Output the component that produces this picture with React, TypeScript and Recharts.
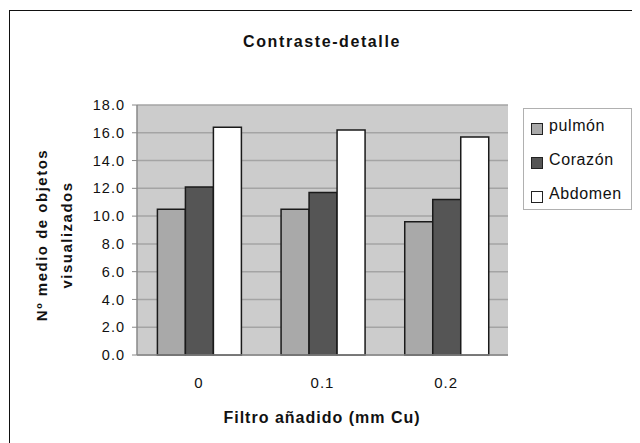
import { BarChart, Bar, XAxis, YAxis, CartesianGrid } from "recharts";

const CATEGORIES = ["0", "0.1", "0.2"];
const PULMON = [10.5, 10.5, 9.6];
const CORAZON = [12.1, 11.7, 11.2];
const ABDOMEN = [16.4, 16.2, 15.7];
const Y_TICKS = [0, 2, 4, 6, 8, 10, 12, 14, 16, 18];
const BOUNDARY_TICKS = [0, 1, 2, 3];

const SERIES = [
  { key: "pulmon", name: "pulmón", fill: "#a9a9a9" },
  { key: "corazon", name: "Corazón", fill: "#555555" },
  { key: "abdomen", name: "Abdomen", fill: "#ffffff" },
];

const data = CATEGORIES.map((c, i) => ({
  filtro: c,
  pulmon: PULMON[i],
  corazon: CORAZON[i],
  abdomen: ABDOMEN[i],
}));

const FONT = '"Liberation Sans", Arial, sans-serif';
const W = 632;
const H = 435;

export default function App() {
  return (
    <div style={{ position: "relative", width: W, height: H, overflow: "hidden", fontFamily: FONT, background: "#fff" }}>
      <div style={{ position: "absolute", left: 1, top: 2, width: 800, height: 600, border: "1.5px solid #111" }} />

      <div style={{ position: "absolute", left: 114, width: 400, top: 25, textAlign: "center", fontSize: 16, fontWeight: "bold", letterSpacing: 1.6, color: "#111" }}>
        Contraste-detalle
      </div>

      <div
        style={{
          position: "absolute",
          left: 45.5 - 120,
          top: 227 - 25,
          width: 240,
          height: 50,
          transform: "rotate(-90deg)",
          textAlign: "center",
          fontSize: 15,
          fontWeight: "bold",
          letterSpacing: 1.5,
          lineHeight: "25px",
          color: "#111",
        }}
      >
        Nº medio de objetos
        <br />
        visualizados
      </div>

      <div style={{ position: "absolute", left: 114, width: 400, top: 401, textAlign: "center", fontSize: 16, fontWeight: "bold", letterSpacing: 1, color: "#111" }}>
        Filtro añadido (mm Cu)
      </div>

      <div style={{ position: "absolute", left: 0, top: 0 }}>
        <BarChart
          width={W}
          height={H}
          data={data}
          margin={{ top: 97, right: 132, left: 0, bottom: 8 }}
          barCategoryGap="16.5%"
          barGap={0}
        >
          <CartesianGrid vertical={false} fill="#cccccc" stroke="#a4a4a4" strokeWidth={1.5} fillOpacity={1} />
          <XAxis
            xAxisId="bnd"
            type="number"
            domain={[0, 3]}
            ticks={BOUNDARY_TICKS}
            height={0}
            axisLine={false}
            tick={false}
            tickSize={5}
            tickLine={{ stroke: "#888" }}
          />
          <XAxis
            dataKey="filtro"
            height={80}
            axisLine={{ stroke: "#888", strokeWidth: 1.5 }}
            tickLine={false}
            tickMargin={16}
            tick={{ fill: "#111", fontSize: 15, letterSpacing: 1, fontFamily: FONT }}
          />
          <XAxis xAxisId="top" orientation="top" height={0} axisLine={{ stroke: "#999", strokeWidth: 1.5 }} tick={false} tickLine={false} />
          <YAxis
            domain={[0, 18]}
            ticks={Y_TICKS}
            width={129}
            tickFormatter={(v: number) => v.toFixed(1)}
            axisLine={{ stroke: "#888", strokeWidth: 1.5 }}
            tickLine={{ stroke: "#888" }}
            tickSize={5}
            tickMargin={7}
            tick={{ fill: "#111", fontSize: 14.5, letterSpacing: 1, fontFamily: FONT }}
          />
          <YAxis yAxisId="right" orientation="right" width={0} domain={[0, 18]} axisLine={{ stroke: "#999", strokeWidth: 1.5 }} tick={false} tickLine={false} />
          {SERIES.map((s) => (
            <Bar
              key={s.key}
              dataKey={s.key}
              name={s.name}
              fill={s.fill}
              stroke="#1a1a1a"
              strokeWidth={1.5}
              isAnimationActive={false}
            />
          ))}
        </BarChart>
      </div>

      <div
        style={{
          position: "absolute",
          left: 515,
          top: 100,
          width: 109,
          height: 102,
          boxSizing: "border-box",
          border: "1px solid #b0b0b0",
          background: "#fff",
        }}
      >
        {SERIES.map((s) => (
          <div key={s.key} style={{ display: "flex", alignItems: "center", height: 34, paddingLeft: 7 }}>
            <span
              style={{
                display: "inline-block",
                width: 10,
                height: 10,
                marginTop: 5,
                background: s.fill,
                border: "1.5px solid #222",
                marginRight: 6,
              }}
            />
            <span style={{ fontSize: 16, letterSpacing: 0.6, color: "#111" }}>{s.name}</span>
          </div>
        ))}
      </div>
    </div>
  );
}
